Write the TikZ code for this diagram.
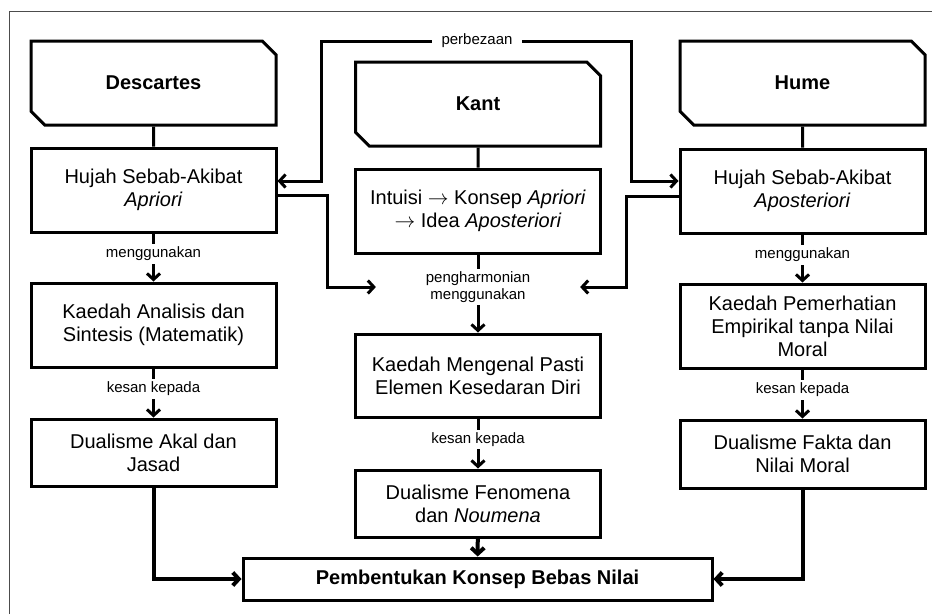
\documentclass[tikz,border=0pt]{standalone}
\usepackage{fontspec}
\setmainfont{Liberation Sans}
\usetikzlibrary{arrows.meta,positioning,shapes.misc}

\begin{document}
\begin{tikzpicture}[x=1pt,y=-1pt,line width=3pt,
    >={Straight Barb[length=6pt,width=13pt]}]
\tikzstyle{head}=[draw,chamfered rectangle,
    chamfered rectangle corners={north east,south west},
    chamfered rectangle xsep=15pt,
    minimum width=245pt,minimum height=84pt,
    font=\fontsize{20}{23}\selectfont\bfseries]
\tikzstyle{box}=[draw,rectangle,align=center,
    minimum width=245pt,minimum height=84pt,
    font=\fontsize{20}{23}\selectfont]
\tikzstyle{lbl}=[fill=white,align=center,inner sep=3pt,
    font=\fontsize{15}{17}\selectfont,line width=0pt]

\useasboundingbox (0,0) rectangle (932,614);
% bingkai
\draw[line width=1pt,black!70] (9,614) -- (9,11) -- (932,11);

% Descartes
\node[head] (desc) at (153.5,83) {Descartes};
\node[box] (d1) [below=20pt of desc] {Hujah Sebab-Akibat\\\textit{Apriori}};
\node[box] (d2) [below=48pt of d1] {Kaedah Analisis dan\\Sintesis (Matematik)};
\node[box,minimum height=67pt] (d3) [below=49pt of d2] {Dualisme Akal dan\\Jasad};

% Kant
\node[head] (kant) at (478,104) {Kant};
\node[box] (k1) [below=20pt of kant] {Intuisi $\rightarrow$ Konsep \textit{Apriori}\\$\rightarrow$ Idea \textit{Aposteriori}};
\node[box,minimum height=83pt] (k2) [below=78pt of k1] {Kaedah Mengenal Pasti\\Elemen Kesedaran Diri};
\node[box,minimum height=67pt] (k3) [below=50pt of k2] {Dualisme Fenomena\\dan \textit{Noumena}};

% Hume
\node[head] (hume) at (802.5,83) {Hume};
\node[box] (h1) [below=21pt of hume] {Hujah Sebab-Akibat\\\textit{Aposteriori}};
\node[box] (h2) [below=48pt of h1] {Kaedah Pemerhatian\\Empirikal tanpa Nilai\\Moral};
\node[box,minimum height=68pt] (h3) [below=49pt of h2] {Dualisme Fakta dan\\Nilai Moral};

\node[box,minimum width=469pt,minimum height=42pt,font=\fontsize{20}{23}\selectfont\bfseries]
    (akhir) at (477.5,579) {Pembentukan Konsep Bebas Nilai};

% label tengah
\node[lbl,inner xsep=10pt] (perb) at (477,41) {perbezaan};
\node[lbl,inner xsep=50pt] (harm) at (478,287) {pengharmonian\\menggunakan};

\draw (desc) -- (d1);
\draw (kant) -- (k1);
\draw (hume) -- (h1);

\draw[->] (d1) -- (d2) node[lbl,pos=0.42] {menggunakan};
\draw[->] (d2) -- (d3) node[lbl,pos=0.42] {kesan kepada};
\draw[->] (h1) -- (h2) node[lbl,pos=0.42] {menggunakan};
\draw[->] (h2) -- (h3) node[lbl,pos=0.42] {kesan kepada};
\draw (k1) -- (harm.north);
\draw[->] (harm.south) -- (k2);
\draw[->] (k2) -- (k3) node[lbl,pos=0.42] {kesan kepada};

\draw[->] (perb.west) -| ([xshift=44pt,yshift=9pt]d1.east) -- ([yshift=9pt]d1.east);
\draw[->] (perb.east) -| ([xshift=-47pt,yshift=10pt]h1.west) -- ([yshift=10pt]h1.west);
\draw[->] ([yshift=-5pt]d1.east) -- ++(50,0) |- (harm.west);
\draw[->] ([yshift=-5pt]h1.west) -- ++(-52,0) |- (harm.east);

\draw[->,line width=4pt] (d3) |- (akhir.west);
\draw[->,line width=4pt] (k3) -- (akhir);
\draw[->,line width=4pt] (h3) |- (akhir.east);
\end{tikzpicture}
\end{document}
